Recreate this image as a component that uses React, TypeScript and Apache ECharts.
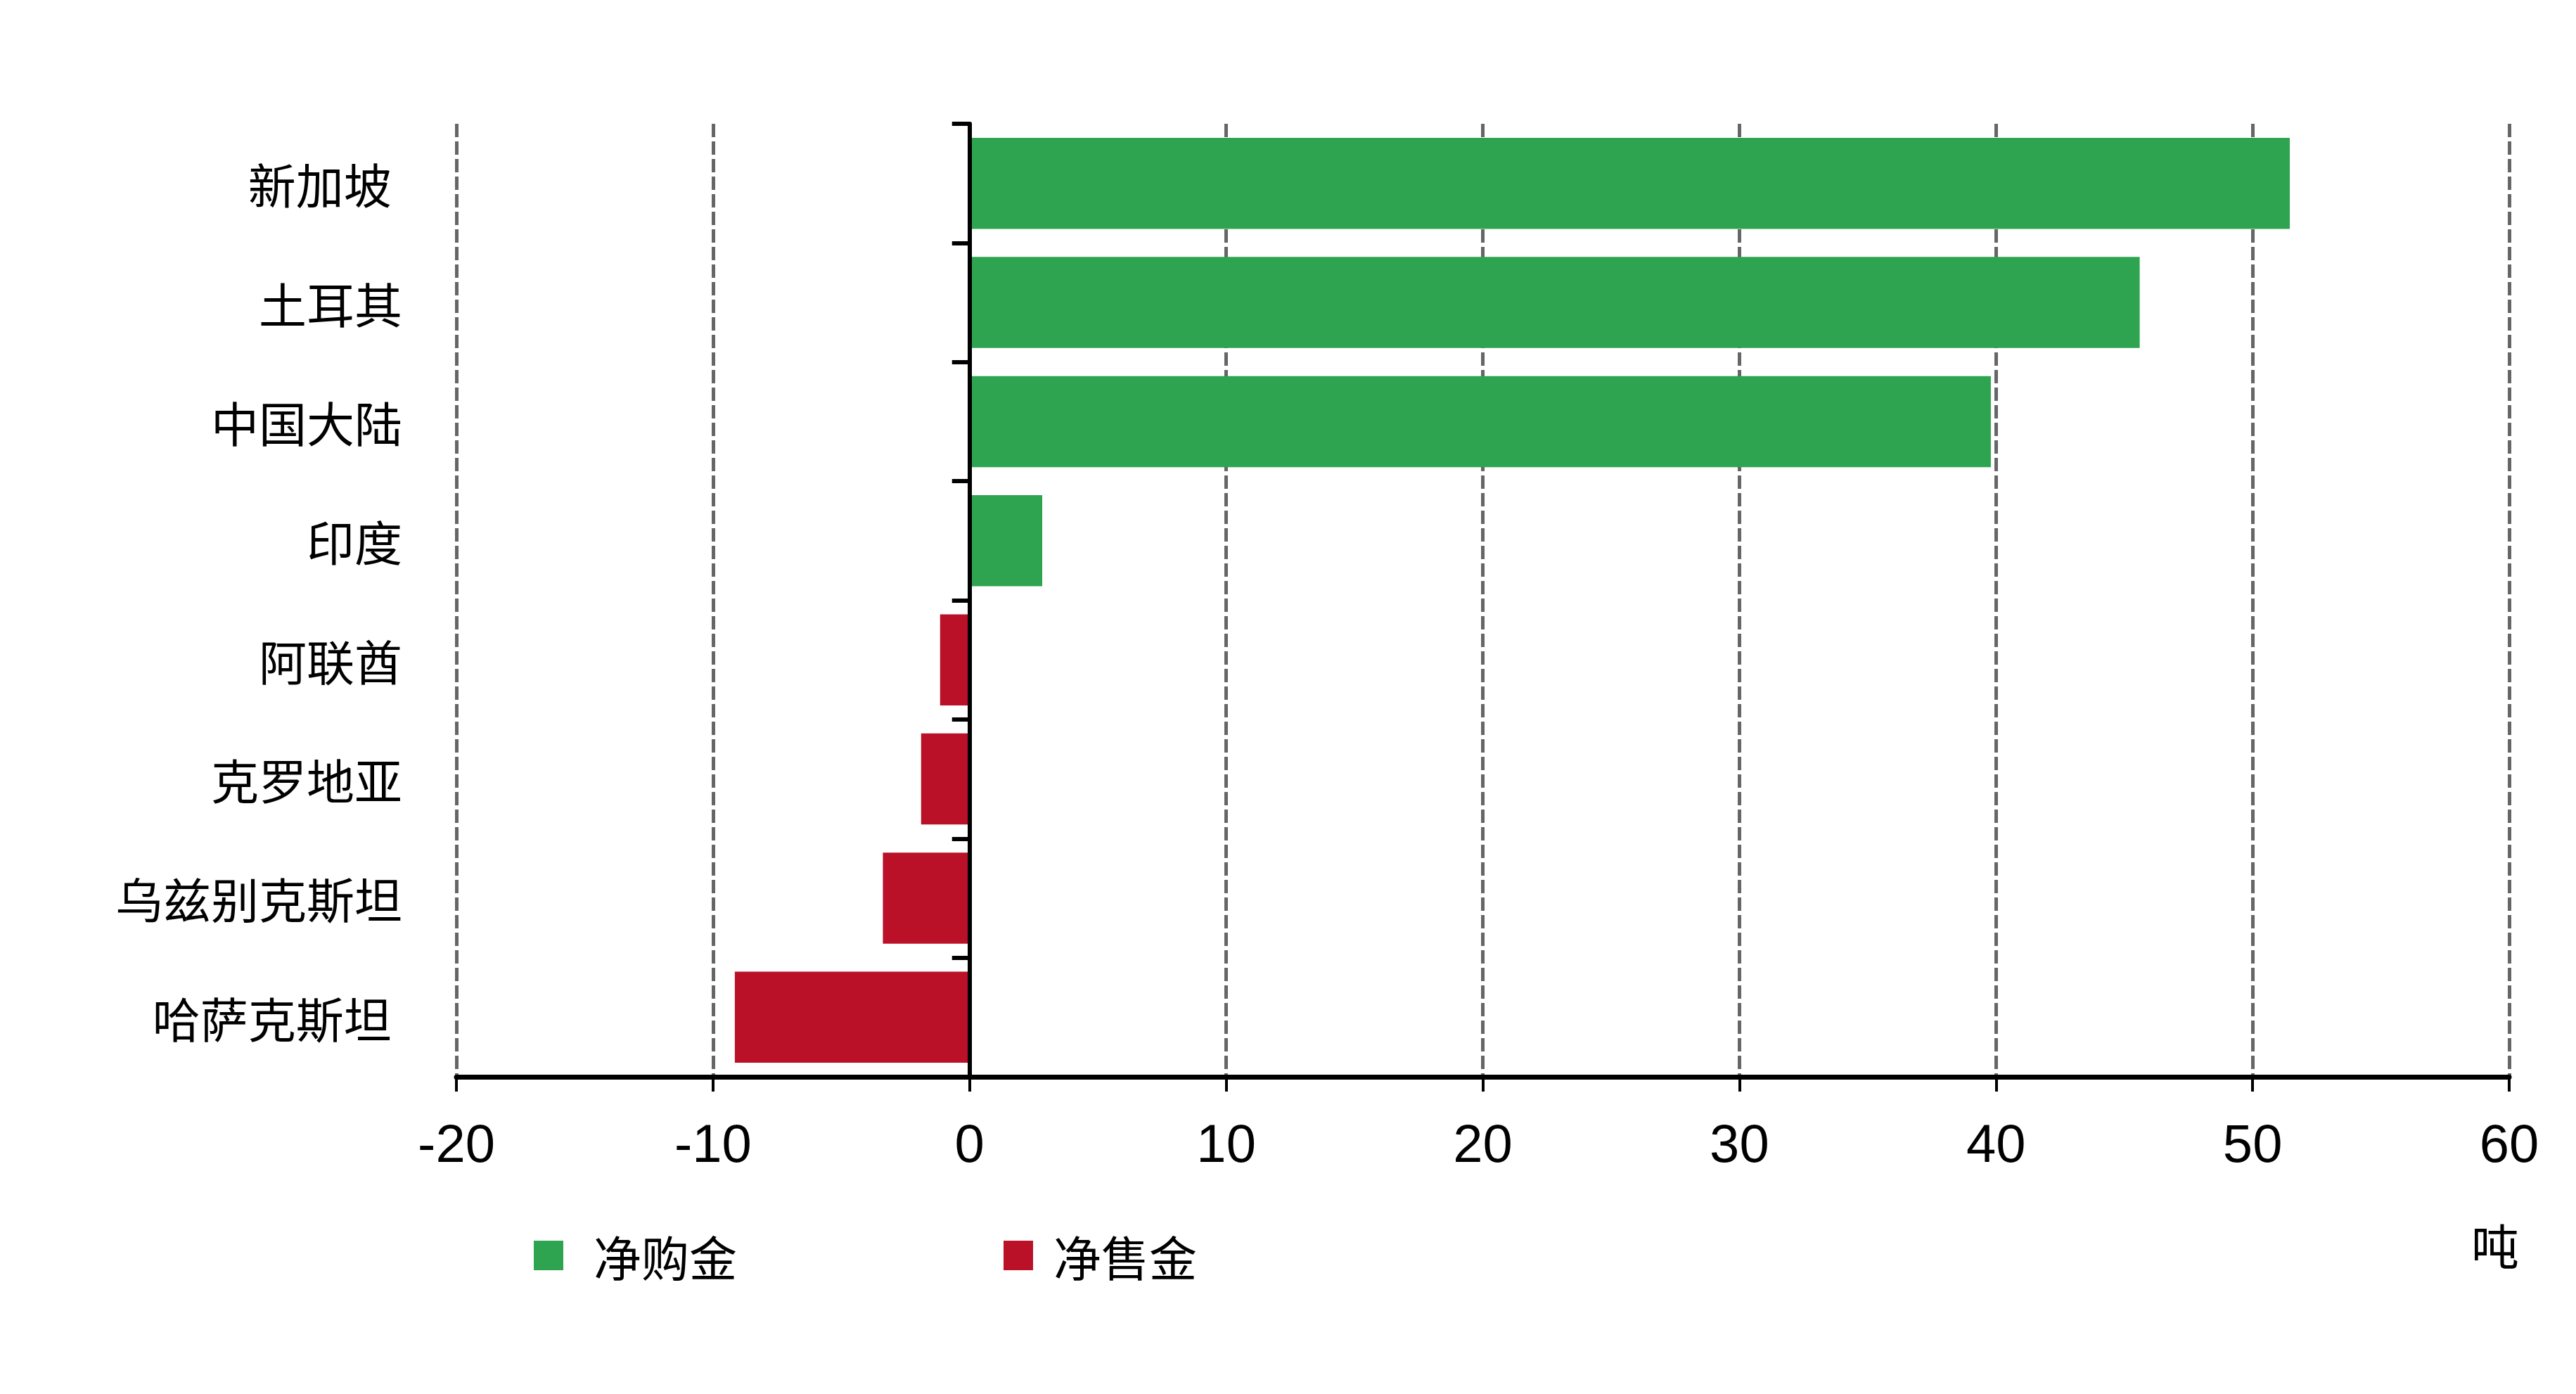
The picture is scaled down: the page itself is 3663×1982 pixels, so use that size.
import React, { useEffect, useRef } from 'react';
import * as echarts from 'echarts';

const categories = ['新加坡 ', '土耳其', '中国大陆', '印度', '阿联酋', '克罗地亚', '乌兹别克斯坦', '哈萨克斯坦 '];
const buyValues: (number | string)[] = [51.45, 45.6, 39.8, 2.83, '-', '-', '-', '-'];
const sellValues: (number | string)[] = ['-', '-', '-', '-', -1.15, -1.89, -3.38, -9.15];
const seriesNames = ['净购金', '净售金'];
const unitLabel = '吨';
const xMin = -20;
const xMax = 60;
const xInterval = 10;

const GREEN = '#2ea450';
const RED = '#ba1129';
const LATIN = '"Liberation Sans", Arial, "Noto Sans CJK SC", sans-serif';
const CJK = '"Noto Sans CJK SC", "Liberation Sans", sans-serif';

export default function App() {
  const ref = useRef<HTMLDivElement>(null);
  useEffect(() => {
    document.body.style.margin = '0';
    document.body.style.overflow = 'hidden';
    const chart = echarts.init(ref.current!, null, { renderer: 'svg' });
    const legendCommon = {
      orient: 'horizontal',
      padding: 0,
      itemWidth: 42,
      itemHeight: 42,
      icon: 'rect',
      top: 1748,
      selectedMode: false,
    };
    const legendText = (padLeft: number) => ({
      fontFamily: CJK,
      fontSize: 68,
      color: '#000',
      lineHeight: 70,
      padding: [0, 0, 4, padLeft],
    });
    chart.setOption({
      animation: false,
      backgroundColor: '#fff',
      grid: { left: 649, right: 3663 - 3568, top: 176, bottom: 1982 - 1531, containLabel: false },
      legend: [
        { ...legendCommon, left: 759, data: [seriesNames[0]], textStyle: legendText(38) },
        { ...legendCommon, left: 1427, data: [seriesNames[1]], textStyle: legendText(24) },
      ],
      xAxis: {
        type: 'value',
        min: xMin,
        max: xMax,
        interval: xInterval,
        axisLine: { show: true, onZero: false, lineStyle: { color: '#000', width: 7 } },
        axisTick: { show: true, inside: false, length: 21, lineStyle: { color: '#000', width: 4 } },
        axisLabel: { show: true, margin: 56, color: '#000', fontSize: 76, fontFamily: LATIN },
        splitLine: { show: true, lineStyle: { color: '#666666', width: 5, type: [19, 6] } },
      },
      yAxis: [
        {
          type: 'category',
          data: categories,
          inverse: true,
          axisLine: { show: false, onZero: false },
          axisTick: { show: false },
          axisLabel: { margin: 77, color: '#000', fontSize: 68, fontFamily: CJK },
          splitLine: { show: false },
        },
        {
          type: 'category',
          data: categories,
          inverse: true,
          position: 'left',
          z: 5,
          axisLine: { show: true, onZero: true, lineStyle: { color: '#000', width: 6 } },
          axisTick: { show: true, inside: false, length: 25, lineStyle: { color: '#000', width: 6 } },
          axisLabel: { show: false },
          splitLine: { show: false },
        },
      ],
      graphic: [
        {
          type: 'text',
          x: 3548,
          y: 1768,
          style: {
            text: unitLabel,
            fontSize: 68,
            fontFamily: CJK,
            fill: '#000',
            align: 'center',
            verticalAlign: 'middle',
          },
        },
      ],
      series: [
        {
          name: seriesNames[0],
          type: 'bar',
          yAxisIndex: 0,
          stack: 'net',
          barWidth: '76.5%',
          itemStyle: { color: GREEN },
          data: buyValues,
        },
        {
          name: seriesNames[1],
          type: 'bar',
          yAxisIndex: 0,
          stack: 'net',
          barWidth: '76.5%',
          itemStyle: { color: RED },
          data: sellValues,
        },
      ],
    });
    return () => chart.dispose();
  }, []);
  return <div ref={ref} style={{ width: 3663, height: 1982 }} />;
}
